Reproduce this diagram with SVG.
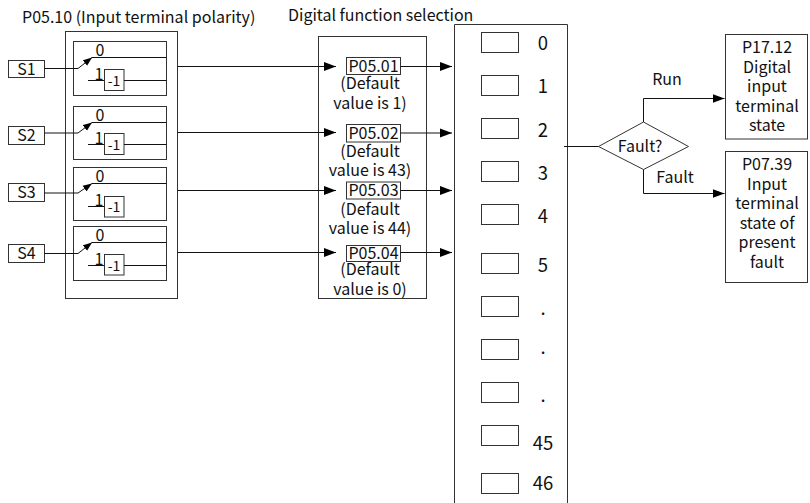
<svg xmlns="http://www.w3.org/2000/svg" width="810" height="503" viewBox="0 0 810 503">
<style>
text{font-family:"Noto Sans CJK SC","Source Han Sans SC","Noto Sans",sans-serif;fill:#111;}
.t{font-size:16px;}
.c{text-anchor:middle;}
.n{font-size:18.5px;text-anchor:middle;}
.s{font-size:16px;}
.m{font-size:14px;}
.bx{fill:#fff;stroke:#333;stroke-width:1;}
.ln{fill:none;stroke:#111;stroke-width:1;}
</style>
<defs>
<marker id="ah" markerUnits="userSpaceOnUse" markerWidth="13" markerHeight="10" refX="12" refY="5" orient="auto">
<path d="M0,0.5 L12,5 L0,9.5 z" fill="#000"/>
</marker>
<marker id="sa" markerUnits="userSpaceOnUse" markerWidth="10" markerHeight="8" refX="9" refY="4" orient="auto">
<path d="M0,0.5 L9,4 L0,7.5 z" fill="#000"/>
</marker>
</defs>

<text class="t" x="22" y="23">P05.10 (Input terminal polarity)</text>
<text class="t" x="288" y="20.5">Digital function selection</text>

<g id="polarity">
<rect class="bx" x="65.5" y="31.5" width="112" height="267"/>
</g>

<g id="switch1">
<rect class="bx" x="73.5" y="41.5" width="93" height="54"/>
<line class="ln" x1="92" y1="57.5" x2="166.5" y2="57.5"/>
<text class="s c" x="100" y="56">0</text>
<line class="ln" x1="88" y1="80.5" x2="104" y2="80.5"/>
<text class="s c" x="99" y="79.5">1</text>
<rect class="bx" x="104.5" y="69.5" width="19.5" height="21"/>
<text class="m c" x="114" y="85.5">-1</text>
<line class="ln" x1="124" y1="80.5" x2="166.5" y2="80.5"/>
</g>
<g id="switch2">
<rect class="bx" x="73.5" y="106.5" width="93" height="53"/>
<line class="ln" x1="92" y1="122.5" x2="166.5" y2="122.5"/>
<text class="s c" x="100" y="121">0</text>
<line class="ln" x1="88" y1="144.5" x2="104" y2="144.5"/>
<text class="s c" x="99" y="143.5">1</text>
<rect class="bx" x="104.5" y="133.5" width="19.5" height="21"/>
<text class="m c" x="114" y="149.5">-1</text>
<line class="ln" x1="124" y1="144.5" x2="166.5" y2="144.5"/>
</g>
<g id="switch3">
<rect class="bx" x="73.5" y="167.5" width="93" height="53"/>
<line class="ln" x1="92" y1="183.5" x2="166.5" y2="183.5"/>
<text class="s c" x="100" y="182">0</text>
<line class="ln" x1="88" y1="206.5" x2="104" y2="206.5"/>
<text class="s c" x="99" y="205.5">1</text>
<rect class="bx" x="104.5" y="196.5" width="19.5" height="20.5"/>
<text class="m c" x="114" y="212">-1</text>
</g>
<g id="switch4">
<rect class="bx" x="73.5" y="226.5" width="93" height="54"/>
<line class="ln" x1="92" y1="242.5" x2="166.5" y2="242.5"/>
<text class="s c" x="100" y="241">0</text>
<line class="ln" x1="88" y1="265.5" x2="104" y2="265.5"/>
<text class="s c" x="99" y="264.5">1</text>
<rect class="bx" x="104.5" y="254.5" width="19.5" height="20.5"/>
<text class="m c" x="114" y="270.5">-1</text>
<line class="ln" x1="124" y1="265.5" x2="166.5" y2="265.5"/>
</g>

<g id="S1"><rect class="bx" x="8.5" y="60.5" width="36" height="17"/><text class="t c" x="26.5" y="74.5">S1</text></g>
<g id="S2"><rect class="bx" x="8.5" y="126.5" width="36" height="18"/><text class="t c" x="26.5" y="141">S2</text></g>
<g id="S3"><rect class="bx" x="8.5" y="183.5" width="36" height="18"/><text class="t c" x="26.5" y="198">S3</text></g>
<g id="S4"><rect class="bx" x="8.5" y="244.5" width="36" height="18"/><text class="t c" x="26.5" y="259">S4</text></g>

<g id="selection">
<rect class="bx" x="318.5" y="36.5" width="108" height="262"/>
<text class="t c" x="370" y="89">(Default</text>
<text class="t c" x="370" y="109">value is 1)</text>
<text class="t c" x="370" y="157">(Default</text>
<text class="t c" x="370" y="175.5">value is 43)</text>
<text class="t c" x="370" y="215">(Default</text>
<text class="t c" x="370" y="234">value is 44)</text>
<text class="t c" x="370" y="275">(Default</text>
<text class="t c" x="370" y="295">value is 0)</text>
</g>
<g id="P0501"><rect class="bx" x="346.5" y="57.5" width="54" height="17"/><text class="t c" x="373.5" y="71.5">P05.01</text></g>
<g id="P0502"><rect class="bx" x="346.5" y="124.5" width="54" height="17.5"/><text class="t c" x="373.5" y="138.5">P05.02</text></g>
<g id="P0503"><rect class="bx" x="346.5" y="182" width="54" height="17"/><text class="t c" x="373.5" y="195.5">P05.03</text></g>
<g id="P0504"><rect class="bx" x="346.5" y="245.5" width="54" height="16"/><text class="t c" x="373.5" y="258.5">P05.04</text></g>

<g id="functions">
<path class="bx" d="M454.5,510 V24.5 H567.5 V510"/>
<rect class="bx" x="481.5" y="32.5" width="37" height="20"/><text class="n" x="543" y="49.5">0</text>
<rect class="bx" x="481.5" y="75.5" width="37" height="20"/><text class="n" x="543" y="92.5">1</text>
<rect class="bx" x="481.5" y="118.5" width="37" height="20"/><text class="n" x="543" y="136.5">2</text>
<rect class="bx" x="481.5" y="161.5" width="37" height="20"/><text class="n" x="543" y="179.5">3</text>
<rect class="bx" x="481.5" y="204.5" width="37" height="20"/><text class="n" x="543" y="222.5">4</text>
<rect class="bx" x="481.5" y="253.5" width="37" height="20"/><text class="n" x="543" y="271.5">5</text>
<rect class="bx" x="481.5" y="296.5" width="37" height="20"/><text class="n" x="543" y="315">.</text>
<rect class="bx" x="481.5" y="339.5" width="37" height="20"/><text class="n" x="543" y="354">.</text>
<rect class="bx" x="481.5" y="382.5" width="37" height="20"/><text class="n" x="543" y="402">.</text>
<rect class="bx" x="481.5" y="425.5" width="37" height="20"/><text class="n" x="543" y="450">45</text>
<rect class="bx" x="481.5" y="473.5" width="37" height="20"/><text class="n" x="543" y="490">46</text>
</g>

<g id="fault">
<path class="bx" d="M598.5,146.5 L643.5,122 L688.5,146.5 L643.5,169.5 z"/>
<text class="t c" x="640" y="151.5">Fault?</text>
</g>
<g id="P1712">
<rect class="bx" x="725.5" y="34.5" width="82" height="104.5"/>
<text class="t c" x="767" y="53">P17.12</text>
<text class="t c" x="767" y="72.5">Digital</text>
<text class="t c" x="767" y="92">input</text>
<text class="t c" x="767" y="111.5">terminal</text>
<text class="t c" x="767" y="131">state</text>
</g>
<g id="P0739">
<rect class="bx" x="725.5" y="151.5" width="82" height="131"/>
<text class="t c" x="767" y="170">P07.39</text>
<text class="t c" x="767" y="189.5">Input</text>
<text class="t c" x="767" y="209">terminal</text>
<text class="t c" x="767" y="228.5">state of</text>
<text class="t c" x="767" y="248">present</text>
<text class="t c" x="767" y="267.5">fault</text>
</g>

<g id="connectors">
<polyline class="ln" points="44.5,68.5 78,68.5 92,57.5" marker-end="url(#sa)"/>
<polyline class="ln" points="44.5,133 78,133 92,122.5" marker-end="url(#sa)"/>
<polyline class="ln" points="44.5,193 78,193 92,183.5" marker-end="url(#sa)"/>
<polyline class="ln" points="44.5,253.5 78,253.5 92,242.5" marker-end="url(#sa)"/>
<line class="ln" x1="177.5" y1="66.5" x2="336" y2="66.5" marker-end="url(#ah)"/>
<line class="ln" x1="177.5" y1="132.5" x2="336" y2="132.5" marker-end="url(#ah)"/>
<line class="ln" x1="177.5" y1="190.5" x2="336" y2="190.5" marker-end="url(#ah)"/>
<line class="ln" x1="177.5" y1="252.5" x2="336" y2="252.5" marker-end="url(#ah)"/>
<line class="ln" x1="400.5" y1="66.5" x2="452" y2="66.5" marker-end="url(#ah)"/>
<line class="ln" x1="400.5" y1="133" x2="452" y2="133" marker-end="url(#ah)"/>
<line class="ln" x1="400.5" y1="190.5" x2="452" y2="190.5" marker-end="url(#ah)"/>
<line class="ln" x1="400.5" y1="252.5" x2="452" y2="252.5" marker-end="url(#ah)"/>
<line class="ln" x1="564" y1="146.5" x2="598.5" y2="146.5"/>
<polyline class="ln" points="643.5,122 643.5,98.5 724.5,98.5" marker-end="url(#ah)"/>
<polyline class="ln" points="643.5,169.5 643.5,193.5 724.5,193.5" marker-end="url(#ah)"/>
<text class="t c" x="667" y="85">Run</text>
<text class="t c" x="675" y="183">Fault</text>
</g>
</svg>
